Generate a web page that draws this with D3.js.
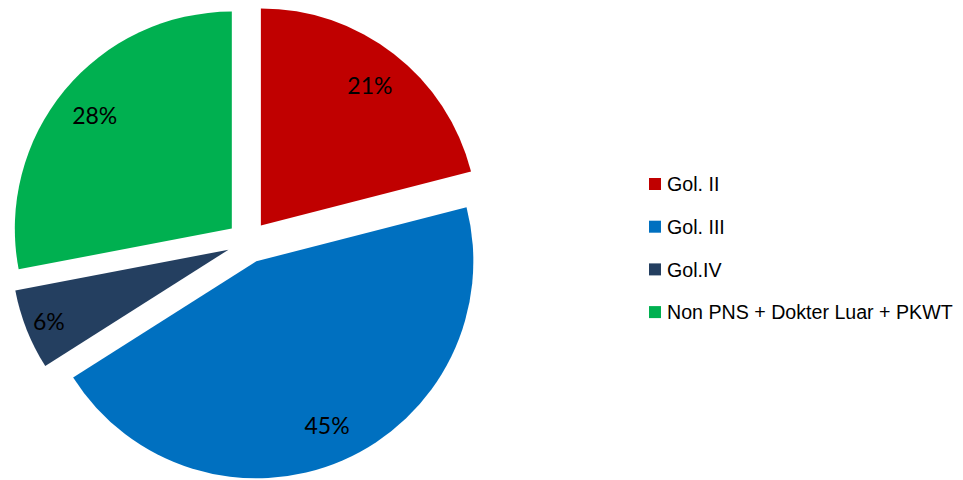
<!DOCTYPE html>
<html>
<head>
<meta charset="utf-8">
<script src="https://cdn.jsdelivr.net/npm/d3@7"></script>
<style>
  html, body { margin: 0; padding: 0; background: #fff; }
  svg { display: block; }
</style>
</head>
<body>
<svg id="chart" width="963" height="480"></svg>
<script>
// Komposisi pegawai per golongan
const categories = ["Gol. II", "Gol. III", "Gol.IV", "Non PNS + Dokter Luar + PKWT"];
const values = [21, 45, 6, 28];
const colors = ["#C00000", "#0070C0", "#243F60", "#00B050"];

const svg = d3.select("#chart");
const cx = 248, cy = 242, radius = 217, explode = 21;

const pie = d3.pie().sort(null).value(d => d.value).startAngle(0).endAngle(2 * Math.PI);
const data = categories.map((c, i) => ({ name: c, value: values[i], color: colors[i] }));
const arcs = pie(data);
const arc = d3.arc().innerRadius(0).outerRadius(radius);
const total = d3.sum(values);

const g = svg.append("g").attr("transform", `translate(${cx},${cy})`);

const slice = g.selectAll("g.slice").data(arcs).join("g")
  .attr("class", "slice")
  .attr("transform", d => {
    const a = (d.startAngle + d.endAngle) / 2;
    return `translate(${Math.sin(a) * explode},${-Math.cos(a) * explode})`;
  });

slice.append("path")
  .attr("d", arc)
  .attr("fill", d => d.data.color);

// narrow slices push their label further toward the rim
const labelRadius = d => radius * ((d.endAngle - d.startAngle) < Math.PI / 6 ? 0.89 : 0.82);

slice.append("text")
  .attr("transform", d => {
    const a = (d.startAngle + d.endAngle) / 2;
    const r = labelRadius(d);
    return `translate(${Math.sin(a) * r},${-Math.cos(a) * r})`;
  })
  .attr("text-anchor", "middle")
  .attr("dominant-baseline", "central")
  .attr("font-family", "Lato, 'Open Sans', sans-serif")
  .attr("font-size", 23)
  .attr("fill", "#000")
  .text(d => Math.round(d.data.value / total * 100) + "%");

// Legend
const legend = svg.append("g").attr("transform", "translate(649,184)");
const item = legend.selectAll("g").data(data).join("g")
  .attr("transform", (d, i) => `translate(0,${i * 42.7})`);
item.append("rect")
  .attr("x", 0).attr("y", -6)
  .attr("width", 12).attr("height", 12)
  .attr("fill", d => d.color);
item.append("text")
  .attr("transform", "translate(18,0) scale(0.935,1)")
  .attr("dominant-baseline", "central")
  .attr("font-family", "'Liberation Sans', Arial, sans-serif")
  .attr("font-size", 21)
  .attr("fill", "#000")
  .text(d => d.name);
</script>
</body>
</html>
